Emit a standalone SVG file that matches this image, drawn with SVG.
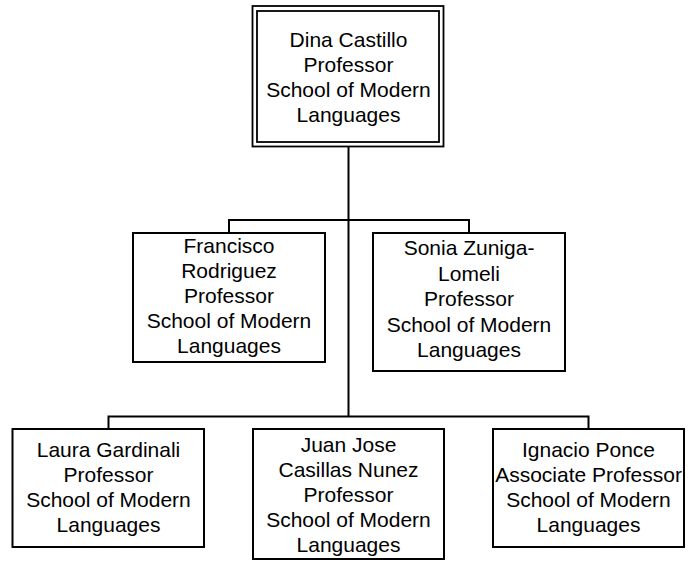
<svg xmlns="http://www.w3.org/2000/svg" width="689" height="561" viewBox="0 0 689 561">
<style>
.box{fill:#fff;stroke:#000;stroke-width:2}
.dbl{fill:none;stroke:#000;stroke-width:1.8}
.conn{fill:none;stroke:#000;stroke-width:2}
text{font-family:"Liberation Sans",Arial,sans-serif;font-size:21px;fill:#000;text-anchor:middle}
</style>
<rect width="689" height="561" fill="#fff"/>
<g id="connectors">
<path class="conn" d="M348.5 146.5V416.5"/>
<path class="conn" d="M229 233V220H469V233"/>
<path class="conn" d="M108.5 429V416.5H588.5V429"/>
</g>
<g id="dina">
<rect class="box" x="252.5" y="6" width="191" height="140.5" style="stroke-width:1.8"/>
<rect class="dbl" x="257" y="11" width="182" height="131"/>
<text x="348.5" y="46.7">Dina Castillo</text>
<text x="348.5" y="71.7">Professor</text>
<text x="348.5" y="96.7">School of Modern</text>
<text x="348.5" y="121.7">Languages</text>
</g>
<g id="francisco">
<rect class="box" x="133" y="233" width="192" height="129"/>
<text x="229" y="252.7">Francisco</text>
<text x="229" y="277.7">Rodriguez</text>
<text x="229" y="302.7">Professor</text>
<text x="229" y="327.7">School of Modern</text>
<text x="229" y="352.7">Languages</text>
</g>
<g id="sonia">
<rect class="box" x="373" y="233" width="192" height="138"/>
<text x="469" y="255">Sonia Zuniga-</text>
<text x="469" y="280.5">Lomeli</text>
<text x="469" y="306">Professor</text>
<text x="469" y="331.5">School of Modern</text>
<text x="469" y="357">Languages</text>
</g>
<g id="laura">
<rect class="box" x="12.5" y="429" width="191.5" height="118"/>
<text x="108.5" y="456.7">Laura Gardinali</text>
<text x="108.5" y="481.7">Professor</text>
<text x="108.5" y="506.7">School of Modern</text>
<text x="108.5" y="531.7">Languages</text>
</g>
<g id="juan">
<rect class="box" x="253" y="429" width="191" height="130"/>
<text x="348.5" y="451.5">Juan Jose</text>
<text x="348.5" y="476.5">Casillas Nunez</text>
<text x="348.5" y="501.5">Professor</text>
<text x="348.5" y="526.5">School of Modern</text>
<text x="348.5" y="551.5">Languages</text>
</g>
<g id="ignacio">
<rect class="box" x="493" y="429" width="191" height="118"/>
<text x="588.5" y="456.7">Ignacio Ponce</text>
<text x="588.5" y="481.7">Associate Professor</text>
<text x="588.5" y="506.7">School of Modern</text>
<text x="588.5" y="531.7">Languages</text>
</g>
</svg>
